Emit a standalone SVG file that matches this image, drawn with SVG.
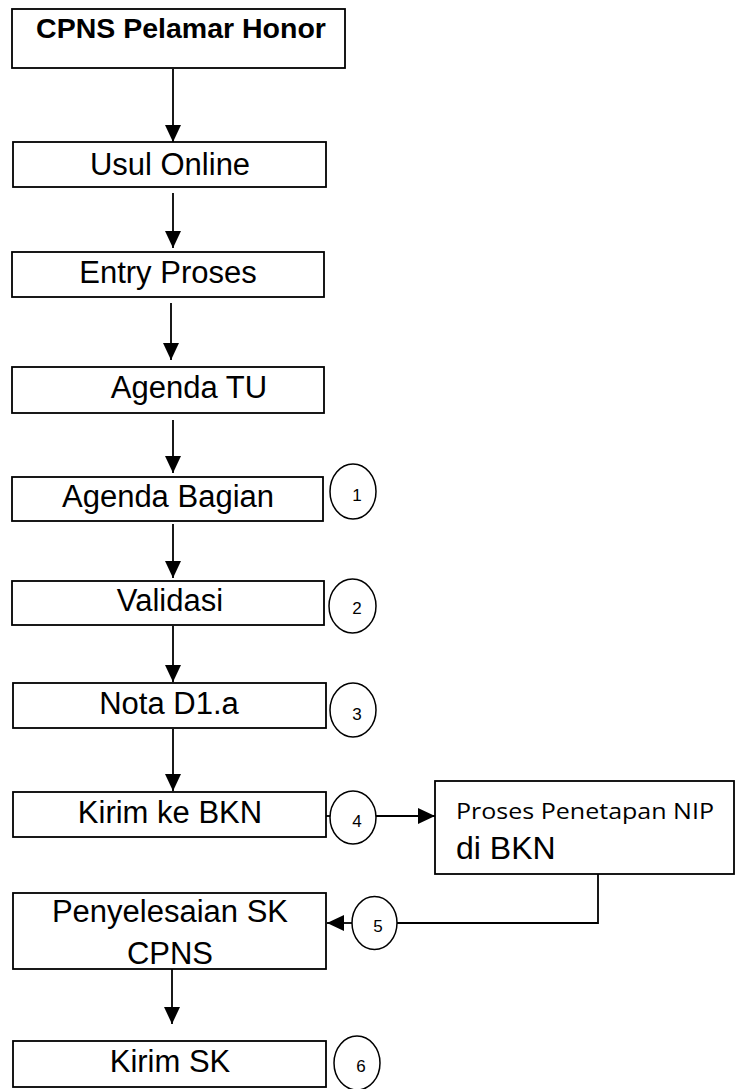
<svg xmlns="http://www.w3.org/2000/svg" width="736" height="1089" viewBox="0 0 736 1089">
<style>
.box{fill:#fff;stroke:#000;stroke-width:1.8}
.t{font-family:"Liberation Sans",Arial,sans-serif;font-size:31px;fill:#000;text-anchor:middle}
.n{font-family:"Liberation Sans",Arial,sans-serif;font-size:17px;fill:#000;text-anchor:middle}
.c{fill:#fff;stroke:#000;stroke-width:1.5}
.ln{fill:none;stroke:#000;stroke-width:1.8}
</style>
<defs>
<marker id="ah" markerUnits="userSpaceOnUse" markerWidth="17" markerHeight="16" refX="17" refY="8" orient="auto" viewBox="0 0 17 16">
<path d="M0,0 L17,8 L0,16 z" fill="#000"/>
</marker>
</defs>
<rect width="736" height="1089" fill="#fff"/>
<g id="connectors">
<line class="ln" x1="173" y1="69" x2="173" y2="142" marker-end="url(#ah)"/>
<line class="ln" x1="173" y1="193" x2="173" y2="248" marker-end="url(#ah)"/>
<line class="ln" x1="171" y1="303" x2="171" y2="360" marker-end="url(#ah)"/>
<line class="ln" x1="173" y1="420" x2="173" y2="473" marker-end="url(#ah)"/>
<line class="ln" x1="173" y1="524" x2="173" y2="578" marker-end="url(#ah)"/>
<line class="ln" x1="173" y1="626" x2="173" y2="682" marker-end="url(#ah)"/>
<line class="ln" x1="173" y1="729" x2="173" y2="791" marker-end="url(#ah)"/>
<line class="ln" x1="322" y1="816" x2="331" y2="816"/>
<line class="ln" x1="376" y1="816" x2="435" y2="816" marker-end="url(#ah)"/>
<polyline class="ln" points="598,874 598,923 397,923"/>
<line class="ln" x1="352" y1="923" x2="327" y2="923" marker-end="url(#ah)"/>
<line class="ln" x1="172" y1="969" x2="172" y2="1024" marker-end="url(#ah)"/>
</g>
<g id="n1"><rect class="box" x="12" y="9" width="333" height="59"/><text class="t" x="181" y="38" style="font-weight:bold;font-size:28.5px">CPNS Pelamar Honor</text></g>
<g id="n2"><rect class="box" x="13" y="142" width="313" height="45"/><text class="t" x="170" y="175">Usul Online</text></g>
<g id="n3"><rect class="box" x="12" y="252" width="312" height="45"/><text class="t" x="168" y="283">Entry Proses</text></g>
<g id="n4"><rect class="box" x="12" y="367" width="312" height="46"/><text class="t" x="189" y="398">Agenda TU</text></g>
<g id="n5"><rect class="box" x="12" y="477" width="311" height="44"/><text class="t" x="168" y="507">Agenda Bagian</text></g>
<g id="c1"><ellipse class="c" cx="353" cy="491.5" rx="23" ry="27.5"/><text class="n" x="357" y="501">1</text></g>
<g id="n6"><rect class="box" x="12" y="581" width="312" height="44"/><text class="t" x="170" y="611">Validasi</text></g>
<g id="c2"><ellipse class="c" cx="352.5" cy="606" rx="23.5" ry="27"/><text class="n" x="357" y="614">2</text></g>
<g id="n7"><rect class="box" x="13" y="683" width="313" height="45"/><text class="t" x="169" y="714">Nota D1.a</text></g>
<g id="c3"><ellipse class="c" cx="353" cy="710" rx="23" ry="27"/><text class="n" x="357" y="720">3</text></g>
<g id="n8"><rect class="box" x="13" y="792" width="313" height="45"/><text class="t" x="170" y="823">Kirim ke BKN</text></g>
<g id="c4"><ellipse class="c" cx="353" cy="817.5" rx="23" ry="26.5"/><text class="n" x="357" y="827">4</text></g>
<g id="n9"><rect class="box" x="435" y="781" width="299" height="93"/><text x="456" y="819" style="font-family:'Open Sans','Noto Sans',sans-serif;font-size:21px" textLength="258" lengthAdjust="spacingAndGlyphs">Proses Penetapan NIP</text><text x="456" y="859" style="font-family:'Liberation Sans',Arial,sans-serif;font-size:32px">di BKN</text></g>
<g id="c5"><ellipse class="c" cx="374.5" cy="923" rx="22.5" ry="26.5"/><text class="n" x="378" y="932">5</text></g>
<g id="n10"><rect class="box" x="13" y="893" width="313" height="76"/><text class="t" x="170" y="922">Penyelesaian SK</text><text class="t" x="170" y="964">CPNS</text></g>
<g id="n11"><rect class="box" x="13" y="1041" width="313" height="46"/><text class="t" x="170" y="1072">Kirim SK</text></g>
<g id="c6"><ellipse class="c" cx="357" cy="1063" rx="23" ry="27"/><text class="n" x="361" y="1072">6</text></g>
</svg>
